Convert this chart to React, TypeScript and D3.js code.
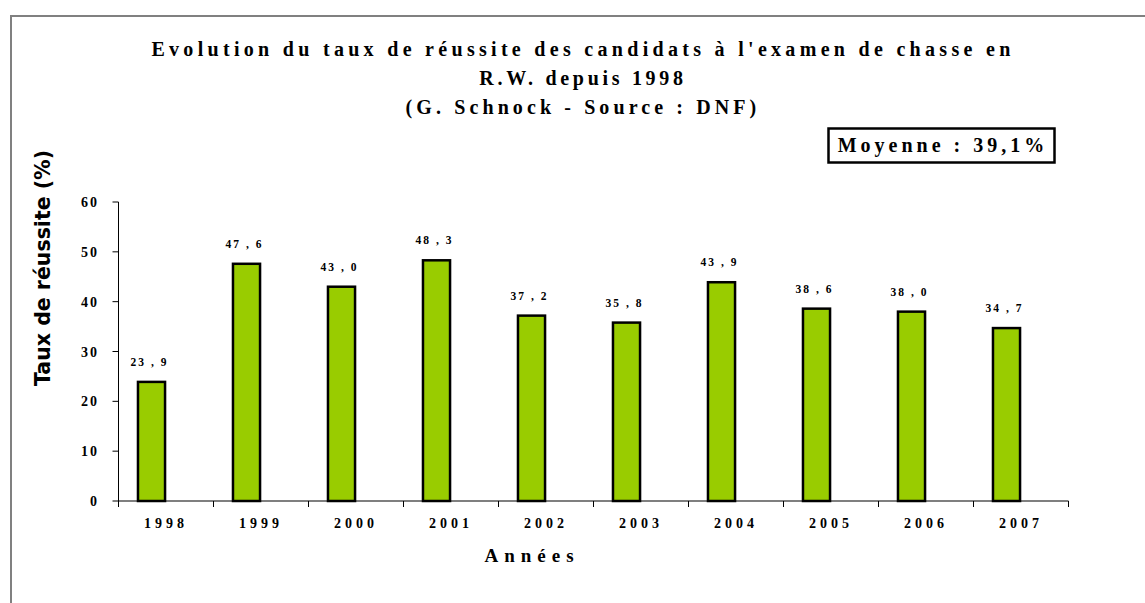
import React from "react";
import { scaleBand, scaleLinear } from "d3";

const years = ["1998", "1999", "2000", "2001", "2002", "2003", "2004", "2005", "2006", "2007"];
const rates = [23.9, 47.6, 43.0, 48.3, 37.2, 35.8, 43.9, 38.6, 38.0, 34.7];
const yTicks = [0, 10, 20, 30, 40, 50, 60];
const titleLines = [
  "Evolution du taux de réussite des candidats à l'examen de chasse en",
  "R.W. depuis 1998",
  "(G. Schnock - Source : DNF)",
];

const W = 1145;
const H = 603;
const left = 118.5;
const right = 1068.5;
const top = 202;
const bottom = 501;
const serif = "Liberation Serif";

const App = () => {
  const x = scaleBand().domain(years).range([left, right]);
  const y = scaleLinear().domain([0, 60]).range([bottom, top]);
  const bw = x.bandwidth();
  const fmt = (v: number) => v.toFixed(1).replace(".", ",");

  return (
    <svg width={W} height={H} style={{ position: "absolute", left: 0, top: 0, background: "#fff" }}>
      {/* outer frame */}
      <path d={`M11,${H} L11,16 L${W},16`} fill="none" stroke="#808080" strokeWidth={2} />

      {/* title */}
      {titleLines.map((t, i) => (
        <text key={i} x={583} y={[56, 85, 114][i]} textAnchor="middle"
          style={{ fontFamily: serif, fontWeight: "bold", fontSize: 20, letterSpacing: [4.3, 3.7, 4.1][i] }} fill="#000">
          {t}
        </text>
      ))}

      {/* moyenne box */}
      <rect x={828.5} y={128.5} width={226} height={34} fill="#fff" stroke="#000" strokeWidth={2.5} />
      <text x={943} y={152} textAnchor="middle" style={{ fontFamily: serif, fontWeight: "bold", fontSize: 20, letterSpacing: 4 }}>
        Moyenne : 39,1%
      </text>

      {/* y axis title */}
      <text transform={`translate(50,268) rotate(-90)`} textAnchor="middle"
        style={{ fontFamily: "DejaVu Sans", fontWeight: "bold", fontSize: 20.5 }} fill="#000">
        Taux de réussite (%)
      </text>

      {/* bars */}
      {years.map((yr, i) => {
        const bx = (x(yr) as number) + bw * 0.205;
        const w = bw * 0.285;
        return (
          <g key={yr}>
            <rect x={bx} y={y(rates[i])} width={w} height={bottom - y(rates[i])}
              fill="#99cc00" stroke="#000" strokeWidth={2.5} />
            <text x={bx + w / 2 - 2} y={y(rates[i]) - 16} textAnchor="middle"
              style={{ fontFamily: serif, fontWeight: "bold", fontSize: 11.5, letterSpacing: 2 }}>
              {fmt(rates[i]).replace(",", " , ")}
            </text>
          </g>
        );
      })}

      {/* y axis */}
      <line x1={left} x2={left} y1={top} y2={bottom} stroke="#000" strokeWidth={1} />
      {yTicks.map((t) => (
        <g key={t}>
          <line x1={left - 6} x2={left} y1={y(t)} y2={y(t)} stroke="#000" strokeWidth={1} />
          <text x={99} y={y(t) + 5} textAnchor="end" style={{ fontFamily: serif, fontWeight: "bold", fontSize: 14, letterSpacing: 2 }}>
            {t}
          </text>
        </g>
      ))}

      {/* x axis */}
      <line x1={left} x2={right} y1={bottom} y2={bottom} stroke="#000" strokeWidth={1.2} />
      {years.map((yr) => (
        <line key={"t" + yr} x1={x(yr) as number} x2={x(yr) as number} y1={bottom} y2={bottom + 6} stroke="#000" />
      ))}
      <line x1={right} x2={right} y1={bottom} y2={bottom + 6} stroke="#000" />
      {years.map((yr) => (
        <text key={"l" + yr} x={(x(yr) as number) + bw / 2} y={528} textAnchor="middle"
          style={{ fontFamily: serif, fontWeight: "bold", fontSize: 14, letterSpacing: 4 }}>
          {yr}
        </text>
      ))}
      <text x={532} y={562} textAnchor="middle" style={{ fontFamily: serif, fontWeight: "bold", fontSize: 19, letterSpacing: 6 }}>
        Années
      </text>
    </svg>
  );
};

export default App;
